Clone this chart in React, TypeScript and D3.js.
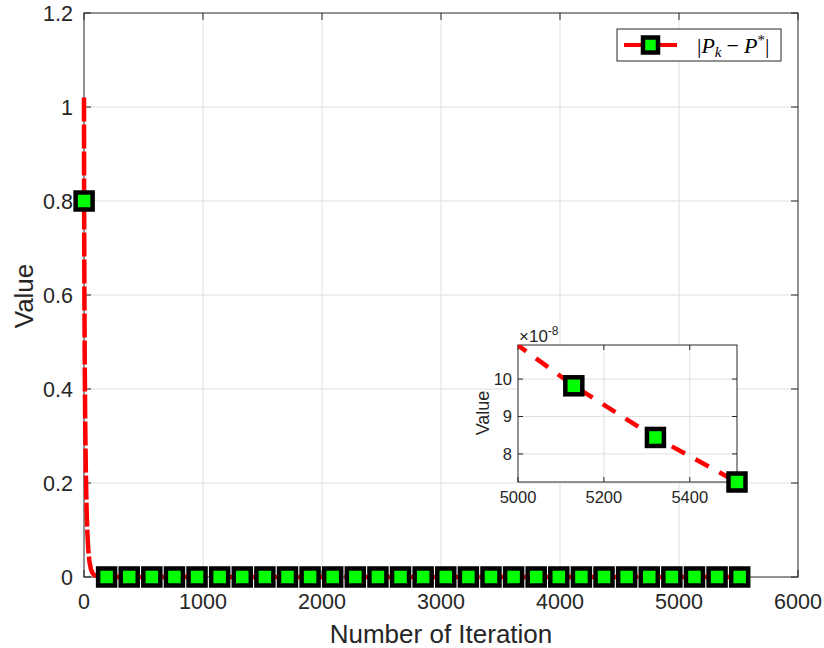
import React from 'react';
import * as d3 from 'd3';

const W = 824;
const H = 648;

const xTicks = [0, 1000, 2000, 3000, 4000, 5000, 6000];
const yTicks = [0, 0.2, 0.4, 0.6, 0.8, 1, 1.2];
const insetXTicks = [5000, 5200, 5400];
const insetYTicks = [8, 9, 10];

// steep initial part of the error curve
const headIter = [0, 1, 3, 6, 10, 15, 21, 28, 36, 46, 58, 72, 90, 115, 150];
const headVal = [1.02, 0.8, 0.62, 0.46, 0.33, 0.23, 0.15, 0.095, 0.058, 0.032, 0.017, 0.008, 0.0035, 0.0015, 0.0006];

// marker positions (every 190 iterations) and values
const markerIter = [1, 190, 380, 570, 760, 950, 1140, 1330, 1520, 1710, 1900, 2090, 2280, 2470, 2660, 2850, 3040, 3230, 3420, 3610, 3800, 3990, 4180, 4370, 4560, 4750, 4940, 5130, 5320, 5510];
const markerVal = [0.8, 4.98e-6, 4.28e-6, 3.68e-6, 3.17e-6, 2.72e-6, 2.34e-6, 2.01e-6, 1.73e-6, 1.49e-6, 1.28e-6, 1.1e-6, 9.47e-7, 8.14e-7, 7.0e-7, 6.02e-7, 5.18e-7, 4.45e-7, 3.83e-7, 3.29e-7, 2.83e-7, 2.43e-7, 2.09e-7, 1.8e-7, 1.55e-7, 1.33e-7, 1.14e-7, 9.82e-8, 8.44e-8, 7.25e-8];

const insetXDomain = [5000, 5510];
const insetYDomain = [7.25e-8, 10.91e-8];
const insetExp = 1e-8;

const AX = '#262626';
const GRID = '#e0e0e0';
const FONT = "'Liberation Sans', Arial, Helvetica, sans-serif";

type Pt = [number, number];

export default function App() {
  const x = d3.scaleLinear().domain([0, 6000]).range([84, 798]);
  const y = d3.scaleLinear().domain([0, 1.2]).range([577, 13]);
  const ix = d3.scaleLinear().domain(insetXDomain).range([518, 737]);
  const iy = d3.scaleLinear().domain(insetYDomain).range([482, 345]);

  const pts: Pt[] = headIter.map((t, i) => [t, headVal[i]] as Pt).concat(
    markerIter.slice(1).map((t, i) => [t, markerVal[i + 1]] as Pt)
  );
  const mainLine = d3.line<Pt>().x(d => x(d[0])).y(d => y(d[1]))(pts) || '';
  const insetPts = pts.filter(d => d[0] >= insetXDomain[0] - 100);
  const insetLine = d3.line<Pt>().x(d => ix(d[0])).y(d => iy(d[1]))(insetPts) || '';

  const [x0, x1] = x.range();
  const [y0, y1] = y.range();
  const [ix0, ix1] = ix.range();
  const [iy0, iy1] = iy.range();
  const tl = 7;
  const itl = 5;

  const marker = (cx: number, cy: number, key: string) => (
    <rect key={key} x={cx - 8.5} y={cy - 8.5} width={17} height={17} fill="#00ff00" stroke="#000" strokeWidth={4.5} />
  );

  return (
    <svg width={W} height={H} style={{ position: 'absolute', left: 0, top: 0, background: '#fff' }}>
      <defs>
        <clipPath id="insetClip">
          <rect x={ix0} y={iy1} width={ix1 - ix0} height={iy0 - iy1} />
        </clipPath>
      </defs>
      <rect x={0} y={0} width={W} height={H} fill="#fff" />

      {/* main grid */}
      {xTicks.slice(1, -1).map(t => (
        <line key={'gx' + t} x1={x(t)} x2={x(t)} y1={y0} y2={y1} stroke={GRID} strokeWidth={1} />
      ))}
      {yTicks.slice(1, -1).map(t => (
        <line key={'gy' + t} x1={x0} x2={x1} y1={y(t)} y2={y(t)} stroke={GRID} strokeWidth={1} />
      ))}

      {/* main box and ticks */}
      <rect x={x0} y={y1} width={x1 - x0} height={y0 - y1} fill="none" stroke={AX} strokeWidth={1} />
      {xTicks.map(t => (
        <g key={'tx' + t}>
          <line x1={x(t)} x2={x(t)} y1={y0} y2={y0 - tl} stroke={AX} />
          <line x1={x(t)} x2={x(t)} y1={y1} y2={y1 + tl} stroke={AX} />
          <text x={x(t)} y={609} textAnchor="middle" fontFamily={FONT} fontSize={21.5} fill={AX}>{String(t)}</text>
        </g>
      ))}
      {yTicks.map(t => (
        <g key={'ty' + t}>
          <line x1={x0} x2={x0 + tl} y1={y(t)} y2={y(t)} stroke={AX} />
          <line x1={x1} x2={x1 - tl} y1={y(t)} y2={y(t)} stroke={AX} />
          <text x={73} y={y(t)} dy="0.36em" textAnchor="end" fontFamily={FONT} fontSize={21.5} fill={AX}>{String(t)}</text>
        </g>
      ))}
      <text x={441} y={643} textAnchor="middle" fontFamily={FONT} fontSize={26} fill={AX}>Number of Iteration</text>
      <text transform={`translate(33,296) rotate(-90)`} textAnchor="middle" fontFamily={FONT} fontSize={26} fill={AX}>Value</text>

      {/* main series */}
      <path d={mainLine} fill="none" stroke="#ff0000" strokeWidth={4.5} strokeDasharray="24,3" />
      {markerIter.map((t, i) => marker(x(t), y(markerVal[i]), 'm' + i))}

      {/* legend */}
      <rect x={617} y={29} width={164} height={32} fill="#fff" stroke={AX} strokeWidth={1} />
      <line x1={624} x2={677} y1={45} y2={45} stroke="#ff0000" strokeWidth={4} />
      <rect x={650.5 - 7.5} y={45 - 7.5} width={15} height={15} fill="#00ff00" stroke="#000" strokeWidth={4.5} />
      <text x={697} y={53} fontFamily="'Liberation Serif', 'Times New Roman', serif" fontSize={22} fill="#000">
        <tspan>|</tspan>
        <tspan fontStyle="italic">P</tspan>
        <tspan fontStyle="italic" fontSize={15} dy={4}>k</tspan>
        <tspan dy={-4} dx={5}>−</tspan>
        <tspan dx={5} fontStyle="italic">P</tspan>
        <tspan fontSize={15} dy={-8}>*</tspan>
        <tspan dy={8}>|</tspan>
      </text>

      {/* inset */}
      <rect x={ix0} y={iy1} width={ix1 - ix0} height={iy0 - iy1} fill="#fff" />
      {insetXTicks.slice(1).map(t => (
        <line key={'igx' + t} x1={ix(t)} x2={ix(t)} y1={iy0} y2={iy1} stroke={GRID} />
      ))}
      {insetYTicks.map(t => (
        <line key={'igy' + t} x1={ix0} x2={ix1} y1={iy(t * insetExp)} y2={iy(t * insetExp)} stroke={GRID} />
      ))}
      <rect x={ix0} y={iy1} width={ix1 - ix0} height={iy0 - iy1} fill="none" stroke={AX} strokeWidth={1} />
      {insetXTicks.map(t => (
        <g key={'itx' + t}>
          <line x1={ix(t)} x2={ix(t)} y1={iy0} y2={iy0 - itl} stroke={AX} />
          <line x1={ix(t)} x2={ix(t)} y1={iy1} y2={iy1 + itl} stroke={AX} />
          <text x={ix(t)} y={503} textAnchor="middle" fontFamily={FONT} fontSize={16.5} fill={AX}>{String(t)}</text>
        </g>
      ))}
      {insetYTicks.map(t => (
        <g key={'ity' + t}>
          <line x1={ix0} x2={ix0 + itl} y1={iy(t * insetExp)} y2={iy(t * insetExp)} stroke={AX} />
          <line x1={ix1} x2={ix1 - itl} y1={iy(t * insetExp)} y2={iy(t * insetExp)} stroke={AX} />
          <text x={512} y={iy(t * insetExp)} dy="0.36em" textAnchor="end" fontFamily={FONT} fontSize={16.5} fill={AX}>{String(t)}</text>
        </g>
      ))}
      <text x={519} y={342} fontFamily={FONT} fontSize={17} fill={AX}>
        <tspan>×10</tspan>
        <tspan fontSize={12} dy={-7}>-8</tspan>
      </text>
      <text transform={`translate(489,413) rotate(-90)`} textAnchor="middle" fontFamily={FONT} fontSize={18} fill={AX}>Value</text>
      <path d={insetLine} fill="none" stroke="#ff0000" strokeWidth={4.5} strokeDasharray="15,12" clipPath="url(#insetClip)" />
      {markerIter.map((t, i) => (t >= insetXDomain[0] ? marker(ix(t), iy(markerVal[i]), 'im' + i) : null))}
    </svg>
  );
}
